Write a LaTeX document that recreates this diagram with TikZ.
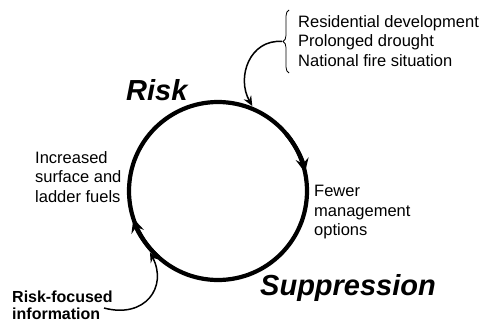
\documentclass[tikz,border=0pt]{standalone}
\usepackage{fontspec}
\setmainfont{Liberation Sans}
\usetikzlibrary{arrows.meta,decorations.pathreplacing,calc}
\begin{document}
\begin{tikzpicture}[x=1pt,y=1pt,
  lbl/.style={inner sep=0pt, align=left, anchor=north west, font=\fontsize{16.5}{19.5}\selectfont},
  blbl/.style={inner sep=0pt, align=left, anchor=north west, font=\fontsize{16}{16.5}\selectfont\bfseries},
  big/.style={inner sep=0pt, anchor=base west, font=\fontsize{29}{34}\selectfont\bfseries\itshape},
  cycarrow/.style={line width=4.2pt, -{Stealth[length=14pt,width=13pt,inset=5pt]}},
  thinarrow/.style={line width=1.5pt, -{Stealth[length=10pt,width=8.5pt,inset=3.5pt]}},
]
\useasboundingbox (0,0) rectangle (485,322);
\coordinate (c) at (218,131);
\node[circle, draw, line width=4.2pt, minimum size=178pt, inner sep=0pt, outer sep=2.6pt] (cyc) at (c) {};
\draw[cycarrow] ($(c)+(40:89)$) arc[start angle=40,end angle=12,radius=89];
\draw[cycarrow] ($(c)+(228:89)$) arc[start angle=228,end angle=198,radius=89];

\node[big] (risk) at (126,222) {Risk};
\node[big] (supp) at (260,27) {Suppression};

\node[lbl] (drivers) at (298,307) {Residential development\\Prolonged drought\\National fire situation};
\draw[line width=0.8pt, decorate, decoration={brace, amplitude=6pt}] (289,249) -- (289,312);
\coordinate (brtip) at (282,280.5);
\draw[thinarrow] (brtip) .. controls (250,283) and (236,245) .. (cyc.68);

\node[lbl] (fuels) at (35,171) {Increased\\surface and\\ladder fuels};
\node[lbl] (fewer) at (314,137) {Fewer\\management\\options};

\node[blbl] (info) at (12,31) {Risk-focused\\information};
\coordinate (infoend) at (104,14);
\draw[thinarrow] (infoend) .. controls (145,3) and (168,35) .. (cyc.222);
\end{tikzpicture}
\end{document}
